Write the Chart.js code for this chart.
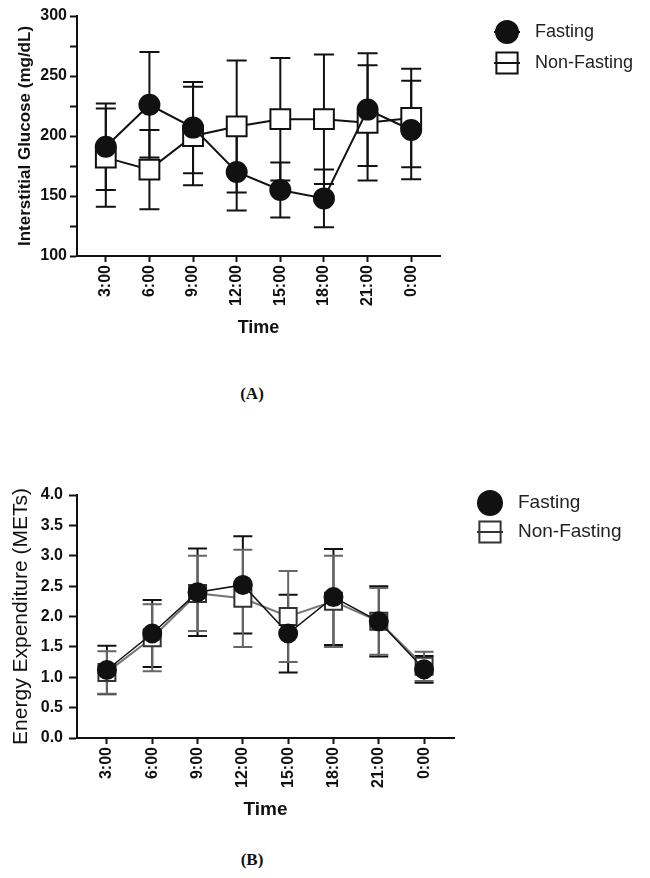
<!DOCTYPE html>
<html>
<head>
<meta charset="utf-8">
<script src="https://cdn.jsdelivr.net/npm/chart.js@4.4.1/dist/chart.umd.min.js"></script>
<style>
  html, body { margin: 0; padding: 0; background: #fff; }
  body { width: 650px; height: 878px; position: relative; overflow: hidden; }
  canvas { position: absolute; left: 0; }
  #chartA { top: 0; }
  #chartB { top: 450px; }
  .panel { position: absolute; width: 100px; text-align: center;
           font: bold 17px "Liberation Serif", serif; color: #111; }
</style>
</head>
<body>
<canvas id="chartA" width="650" height="360"></canvas>
<div class="panel" style="left:202px; top:384px;">(A)</div>
<canvas id="chartB" width="650" height="380"></canvas>
<div class="panel" style="left:202px; top:850px;">(B)</div>
<script>
// Two panels: interstitial glucose (A) and energy expenditure (B), fasting vs
// non-fasting, mean ± SD at 3-hour points.

const TIMES = ['3:00', '6:00', '9:00', '12:00', '15:00', '18:00', '21:00', '0:00'];

const GLU_FAST = [191, 226, 207, 170, 155, 148, 222, 205];
const GLU_FAST_SD = [36, 44, 38, 32, 23, 24, 47, 41];
const GLU_NONFAST = [182, 172, 200, 208, 214, 214, 211, 215];
const GLU_NONFAST_SD = [41, 33, 41, 55, 51, 54, 48, 41];

const MET_FAST = [1.12, 1.72, 2.40, 2.52, 1.72, 2.32, 1.92, 1.13];
const MET_FAST_SD = [0.40, 0.55, 0.72, 0.80, 0.64, 0.79, 0.58, 0.22];
const MET_NONFAST = [1.08, 1.65, 2.38, 2.30, 2.00, 2.25, 1.92, 1.18];
const MET_NONFAST_SD = [0.35, 0.55, 0.62, 0.80, 0.75, 0.75, 0.55, 0.24];

const SANS = '"Liberation Sans", Arial, sans-serif';

// mean ± SD whiskers, drawn under the markers
const errorBars = {
  id: 'errorBars',
  beforeDatasetsDraw(chart, args, opts) {
    const { ctx, scales: { x, y } } = chart;
    chart.data.datasets.forEach((ds) => {
      if (!ds.errors) return;
      ctx.save();
      ctx.strokeStyle = ds.errorColor || '#000';
      ctx.lineWidth = opts.width;
      ds.data.forEach((p, j) => {
        const px = x.getPixelForValue(p.x);
        const top = y.getPixelForValue(p.y + ds.errors[j]);
        const bot = y.getPixelForValue(p.y - ds.errors[j]);
        ctx.beginPath();
        ctx.moveTo(px, top); ctx.lineTo(px, bot);
        ctx.moveTo(px - opts.cap, top); ctx.lineTo(px + opts.cap, top);
        ctx.moveTo(px - opts.cap, bot); ctx.lineTo(px + opts.cap, bot);
        ctx.stroke();
      });
      ctx.restore();
    });
  },
};

// GraphPad-style legend off to the right: marker with a line through it
const sideLegend = {
  id: 'sideLegend',
  afterDraw(chart, args, opts) {
    const ctx = chart.ctx;
    chart.data.datasets.forEach((ds, i) => {
      const x = opts.x, y = opts.y + i * opts.gap;
      ctx.save();
      ctx.strokeStyle = ds.borderColor;
      ctx.lineWidth = 2;
      ctx.beginPath();
      ctx.moveTo(x - opts.line, y); ctx.lineTo(x + opts.line, y);
      ctx.stroke();
      ctx.fillStyle = ds.pointBackgroundColor;
      ctx.strokeStyle = ds.pointBorderColor;
      Chart.helpers.drawPoint(ctx, { pointStyle: ds.pointStyle, radius: opts.radius[i], borderWidth: 2, rotation: 0 }, x, y);
      if (ds.pointStyle === 'rect') {     // line shows through the open square
        ctx.beginPath();
        ctx.moveTo(x - opts.line, y); ctx.lineTo(x + opts.line, y);
        ctx.stroke();
      }
      ctx.fillStyle = '#222';
      ctx.font = opts.font;
      ctx.textBaseline = 'middle';
      ctx.fillText(ds.label, opts.textX, y);
      ctx.restore();
    });
  },
};

function pts(vals) {
  return vals.map((v, i) => ({ x: i, y: v }));
}

function xScale(titleFont, height) {
  return {
    type: 'linear',
    min: -0.66,
    max: TIMES.length - 1 + 0.66,
    afterBuildTicks: (s) => { s.ticks = TIMES.map((_, i) => ({ value: i })); },
    afterFit: (s) => { s.height = height; },
    ticks: {
      callback: (v) => TIMES[v] ?? '',
      minRotation: 90, maxRotation: 90,
      color: '#111', padding: 3,
      font: { family: SANS, size: 16, weight: 'bold' },
    },
    grid: { drawOnChartArea: false, tickLength: 6, tickWidth: 2, tickColor: '#111' },
    border: { display: true, color: '#111', width: 2 },
    title: { display: true, text: 'Time', color: '#111', font: titleFont },
  };
}

new Chart(document.getElementById('chartA'), {
  type: 'line',
  data: {
    datasets: [
      {
        label: 'Fasting', data: pts(GLU_FAST), errors: GLU_FAST_SD, errorColor: '#111',
        borderColor: '#111', borderWidth: 2, pointStyle: 'circle', pointRadius: 10,
        pointBackgroundColor: '#111', pointBorderColor: '#111', pointBorderWidth: 2,
      },
      {
        label: 'Non-Fasting', data: pts(GLU_NONFAST), errors: GLU_NONFAST_SD, errorColor: '#111',
        borderColor: '#111', borderWidth: 2, pointStyle: 'rect', pointRadius: 14,
        pointBackgroundColor: '#fff', pointBorderColor: '#111', pointBorderWidth: 2,
      },
    ],
  },
  options: {
    responsive: false,
    animation: false,
    devicePixelRatio: 1,
    layout: { padding: { left: 11, top: 13, right: 210, bottom: 17 } },
    plugins: {
      legend: { display: false },
      tooltip: { enabled: false },
      errorBars: { width: 2, cap: 10 },
      sideLegend: { x: 507, y: 32, gap: 31, line: 13, radius: [11, 15], textX: 535, font: '18px ' + SANS },
    },
    scales: {
      x: xScale({ family: SANS, size: 18, weight: 'bold' }, 87),
      y: {
        min: 100, max: 300,
        afterFit: (s) => { s.width = 66; },
        ticks: {
          stepSize: 25,
          callback: (v) => (v % 50 === 0 ? v : ''),
          color: '#111', padding: 3,
          font: { family: SANS, size: 16, weight: 'bold' },
        },
        grid: { drawOnChartArea: false, tickLength: 7, tickWidth: 2, tickColor: '#111' },
        border: { display: true, color: '#111', width: 2 },
        title: {
          display: true, text: 'Interstitial Glucose (mg/dL)', color: '#111',
          font: { family: SANS, size: 17, weight: 'bold' },
        },
      },
    },
  },
  plugins: [errorBars, sideLegend],
});

new Chart(document.getElementById('chartB'), {
  type: 'line',
  data: {
    datasets: [
      {
        label: 'Fasting', data: pts(MET_FAST), errors: MET_FAST_SD, errorColor: '#111',
        borderColor: '#111', borderWidth: 1.5, pointStyle: 'circle', pointRadius: 9,
        pointBackgroundColor: '#111', pointBorderColor: '#111', pointBorderWidth: 2,
      },
      {
        label: 'Non-Fasting', data: pts(MET_NONFAST), errors: MET_NONFAST_SD, errorColor: '#666',
        borderColor: '#777', borderWidth: 2, pointStyle: 'rect', pointRadius: 12,
        pointBackgroundColor: '#fff', pointBorderColor: '#333', pointBorderWidth: 2,
      },
    ],
  },
  options: {
    responsive: false,
    animation: false,
    devicePixelRatio: 1,
    layout: { padding: { left: 5, top: 45, right: 196, bottom: 5 } },
    plugins: {
      legend: { display: false },
      tooltip: { enabled: false },
      errorBars: { width: 2, cap: 9.5 },
      sideLegend: { x: 490, y: 53, gap: 29, line: 13, radius: [12, 15], textX: 518, font: '19px ' + SANS },
    },
    scales: {
      x: xScale({ family: SANS, size: 19, weight: 'bold' }, 87),
      y: {
        min: 0, max: 4,
        afterFit: (s) => { s.width = 72; },
        ticks: {
          stepSize: 0.5,
          callback: (v) => v.toFixed(1),
          color: '#111', padding: 6,
          font: { family: SANS, size: 16, weight: 'bold' },
        },
        grid: { drawOnChartArea: false, tickLength: 8, tickWidth: 2, tickColor: '#111' },
        border: { display: true, color: '#111', width: 2 },
        title: {
          display: true, text: 'Energy Expenditure (METs)', color: '#111',
          font: { family: SANS, size: 21 },
        },
      },
    },
  },
  plugins: [errorBars, sideLegend],
});
</script>
</body>
</html>
